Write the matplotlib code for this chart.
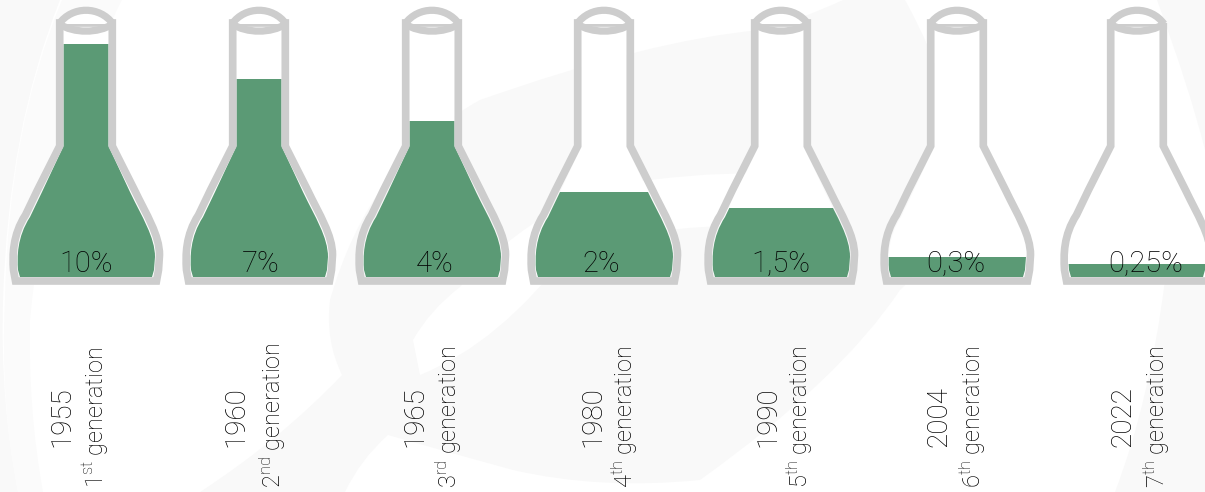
import matplotlib
matplotlib.use("Agg")
import matplotlib.pyplot as plt
from matplotlib.path import Path
from matplotlib.patches import PathPatch, Rectangle

plt.rcParams['font.family'] = ['Roboto', 'DejaVu Sans']
plt.rcParams['font.weight'] = 'light'
plt.rcParams['mathtext.default'] = 'regular'

# values
years = ["1955", "1960", "1965", "1980", "1990", "2004", "2022"]
generations = ["1^{st}", "2^{nd}", "3^{rd}", "4^{th}", "5^{th}", "6^{th}", "7^{th}"]
percents = ["10%", "7%", "4%", "2%", "1,5%", "0,3%", "0,25%"]
fill_heights = [233, 198, 156, 85, 69, 20, 13]

flask_x = [86, 259, 432, 604, 781, 957, 1137]
percent_x = [86, 261, 435, 601, 781, 956, 1146]
year_x = [62, 236, 415, 593, 768, 939, 1123]
gen_x = [95, 273, 449, 625, 800, 973, 1157]

GREY = "#cdcdcd"
GREEN = "#5b9a75"
BG = "#f9f9f9"
FLOOR = 277


def flask_path(cx, neck, body, top, bottom, shoulder):
    # closed flask outline, neck and body are half widths
    right = [
        (cx + neck, top),
        (cx + neck, 146),
        (cx + body - 25, shoulder),
        (cx + body - 13, shoulder + 25),
        (cx + body, shoulder + 45),
        (cx + body, shoulder + 65),
        (cx + body - 1, 270),
        (cx + body - 3, bottom),
    ]
    left = [(2 * cx - x, y) for x, y in reversed(right)]
    codes = [Path.MOVETO, Path.LINETO, Path.LINETO, Path.CURVE4, Path.CURVE4, Path.CURVE4,
             Path.LINETO, Path.LINETO]
    left_codes = [Path.LINETO, Path.LINETO, Path.CURVE4, Path.CURVE4, Path.CURVE4,
                  Path.LINETO, Path.LINETO, Path.LINETO]
    return Path(right + left + [right[0]], codes + left_codes + [Path.CLOSEPOLY])


def smooth(pts, color):
    # closed blob, start point then control/end pairs
    codes = [Path.MOVETO] + [Path.CURVE3] * (len(pts) - 1)
    if len(pts) % 2 == 0:
        codes[-1] = Path.LINETO
    ax.add_patch(PathPatch(Path(pts + [pts[0]], codes + [Path.LINETO]), fc=color, ec="none", zorder=0))


fig = plt.figure(figsize=(12.05, 4.92), dpi=100)
ax = fig.add_axes([0, 0, 1, 1])
ax.set_xlim(0, 1205)
ax.set_ylim(492, 0)
ax.axis("off")

# faint watermark behind the chart
smooth([(905, 0), (1010, 190), (900, 290), (840, 380), (700, 480), (600, 490), (513, 470),
        (440, 450), (388, 435), (360, 460), (345, 492), (270, 492), (200, 492), (280, 440), (342, 375),
        (325, 340), (330, 300), (370, 160), (480, 100), (650, 40), (760, 30), (800, 20), (843, 0)], BG)
smooth([(413, 340), (430, 310), (460, 287), (550, 190), (650, 180), (730, 170), (790, 175),
        (800, 210), (760, 225), (640, 226), (570, 250), (500, 343), (420, 375)], "white")
smooth([(0, 0), (30, 0), (60, 0), (8, 130), (3, 300), (0, 400), (18, 492), (9, 492), (0, 492)], BG)
smooth([(62, 0), (92, 0), (122, 0), (45, 150), (30, 320), (28, 410), (43, 492), (30, 492), (18, 492),
        (0, 400), (5, 300), (8, 130), (62, 0)], "#fbfbfb")
smooth([(1165, 280), (1150, 400), (1115, 492), (1160, 492), (1205, 492), (1205, 380), (1205, 280)], BG)
smooth([(1157, 0), (1190, 90), (1205, 150), (1205, 70), (1205, 0)], BG)

for i, cx in enumerate(flask_x):
    # liquid, clipped to the inside of the flask
    inner = PathPatch(flask_path(cx, 22.5, 69, 20, FLOOR, 192), fc="white", ec="none", zorder=1)
    ax.add_patch(inner)
    liquid = Rectangle((cx - 80, FLOOR - fill_heights[i]), 160, fill_heights[i], fc=GREEN, ec="none", zorder=2)
    ax.add_patch(liquid)
    liquid.set_clip_path(inner)

    # glass
    outer = flask_path(cx, 26.3, 73.5, 23, 281, 190)
    ax.add_patch(PathPatch(outer, fc="none", ec=GREY, lw=5.5, joinstyle="miter", zorder=3))
    rim_top = Path([(cx - 27, 24), (cx - 14, 5.7), (cx + 14, 5.7), (cx + 27, 24)],
                   [Path.MOVETO, Path.CURVE4, Path.CURVE4, Path.CURVE4])
    rim_low = Path([(cx - 27, 24), (cx - 12, 33.5), (cx + 12, 33.5), (cx + 27, 24)],
                   [Path.MOVETO, Path.CURVE4, Path.CURVE4, Path.CURVE4])
    ax.add_patch(PathPatch(rim_top, fc="white", ec=GREY, lw=5.2, zorder=3))
    ax.add_patch(PathPatch(rim_low, fc="none", ec=GREY, lw=5.2, zorder=3))

    ax.text(percent_x[i], 272, percents[i], fontsize=21, color="black",
            ha="center", va="baseline", zorder=4)
    ax.text(year_x[i], 447, years[i], fontsize=20, color="black", rotation=90,
            ha="center", va="bottom", zorder=4)
    ax.text(gen_x[i], 488, rf"${generations[i]}$ generation", fontsize=17, color="black",
            rotation=90, ha="center", va="bottom", zorder=4)

fig.savefig("out.png", dpi=100, facecolor="white")
